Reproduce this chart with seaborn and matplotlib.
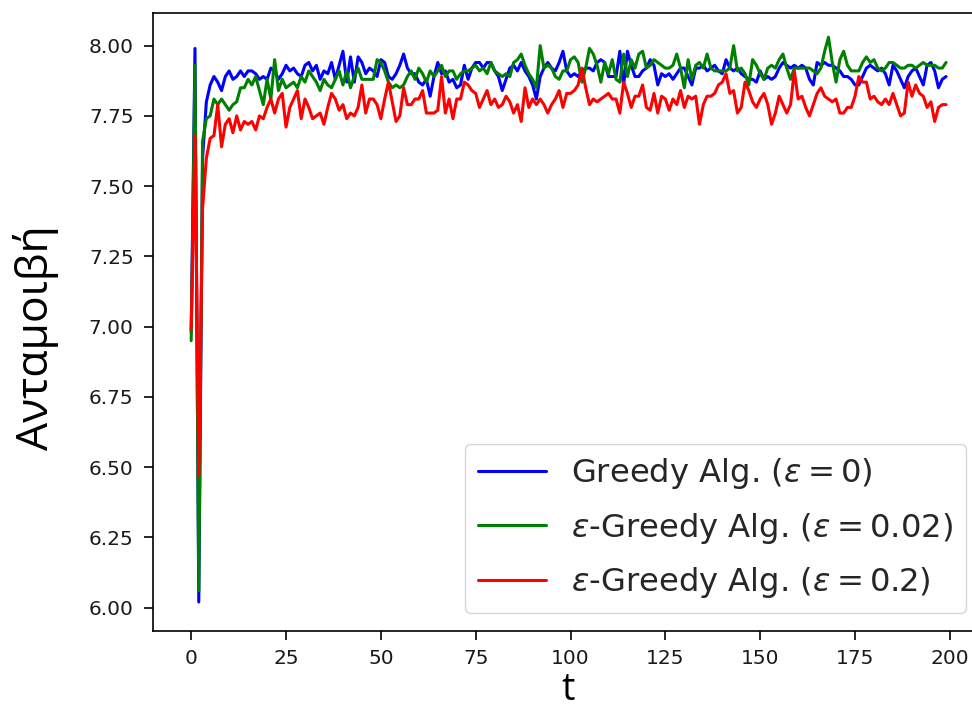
import numpy as np
import pandas as pd
import matplotlib
matplotlib.use("Agg")
import matplotlib.pyplot as plt
import seaborn as sns

t = list(range(200))

greedy = [
    6.98, 7.99, 6.02, 7.60, 7.80, 7.86, 7.89, 7.87, 7.84, 7.89,
    7.91, 7.88, 7.89, 7.91, 7.89, 7.91, 7.91, 7.90, 7.88, 7.89,
    7.88, 7.92, 7.91, 7.88, 7.90, 7.93, 7.91, 7.92, 7.90, 7.89,
    7.93, 7.94, 7.91, 7.93, 7.88, 7.91, 7.90, 7.94, 7.88, 7.93,
    7.98, 7.87, 7.96, 7.87, 7.96, 7.94, 7.90, 7.92, 7.91, 7.89,
    7.95, 7.94, 7.89, 7.88, 7.90, 7.93, 7.97, 7.92, 7.90, 7.90,
    7.87, 7.86, 7.88, 7.82, 7.89, 7.94, 7.90, 7.91, 7.87, 7.88,
    7.85, 7.86, 7.93, 7.88, 7.92, 7.94, 7.94, 7.92, 7.94, 7.94,
    7.91, 7.89, 7.84, 7.88, 7.92, 7.93, 7.91, 7.94, 7.91, 7.89,
    7.86, 7.81, 7.89, 7.92, 7.94, 7.92, 7.91, 7.94, 7.98, 7.91,
    7.89, 7.90, 7.89, 7.91, 7.92, 7.92, 7.91, 7.94, 7.95, 7.94,
    7.89, 7.89, 7.89, 7.98, 7.86, 7.98, 7.93, 7.89, 7.89, 7.91,
    7.92, 7.95, 7.93, 7.86, 7.90, 7.89, 7.90, 7.88, 7.90, 7.92,
    7.92, 7.89, 7.86, 7.92, 7.92, 7.93, 7.91, 7.92, 7.93, 7.91,
    7.90, 7.95, 7.92, 7.91, 7.92, 7.90, 7.89, 7.88, 7.88, 7.87,
    7.91, 7.88, 7.89, 7.88, 7.89, 7.92, 7.94, 7.93, 7.92, 7.93,
    7.92, 7.93, 7.92, 7.88, 7.86, 7.94, 7.93, 7.94, 7.93, 7.93,
    7.92, 7.91, 7.89, 7.89, 7.88, 7.86, 7.86, 7.89, 7.92, 7.93,
    7.92, 7.91, 7.92, 7.90, 7.86, 7.93, 7.91, 7.88, 7.85, 7.89,
    7.91, 7.92, 7.89, 7.86, 7.93, 7.94, 7.91, 7.85, 7.88, 7.89,
]

eps_002 = [
    6.95, 7.93, 6.06, 7.66, 7.74, 7.75, 7.81, 7.79, 7.81, 7.79,
    7.77, 7.79, 7.80, 7.85, 7.85, 7.88, 7.86, 7.89, 7.84, 7.79,
    7.88, 7.81, 7.95, 7.84, 7.88, 7.85, 7.86, 7.87, 7.85, 7.89,
    7.87, 7.91, 7.89, 7.87, 7.84, 7.88, 7.86, 7.85, 7.88, 7.91,
    7.86, 7.91, 7.85, 7.89, 7.92, 7.88, 7.88, 7.88, 7.88, 7.95,
    7.94, 7.91, 7.87, 7.85, 7.86, 7.85, 7.86, 7.89, 7.91, 7.88,
    7.92, 7.90, 7.87, 7.91, 7.89, 7.91, 7.93, 7.89, 7.91, 7.91,
    7.88, 7.90, 7.91, 7.91, 7.92, 7.93, 7.91, 7.92, 7.90, 7.94,
    7.91, 7.90, 7.89, 7.90, 7.89, 7.94, 7.95, 7.97, 7.93, 7.90,
    7.88, 7.85, 8.00, 7.92, 7.93, 7.92, 7.89, 7.88, 7.91, 7.91,
    7.95, 7.96, 7.94, 7.87, 7.92, 7.99, 7.97, 7.93, 7.87, 7.94,
    7.90, 7.95, 7.88, 7.87, 7.97, 7.89, 7.95, 7.92, 7.97, 7.98,
    7.92, 7.93, 7.95, 7.94, 7.93, 7.92, 7.92, 7.93, 7.97, 7.92,
    7.85, 7.95, 7.88, 7.93, 7.94, 7.92, 7.97, 7.92, 7.91, 7.91,
    7.91, 7.91, 7.92, 8.00, 7.91, 7.92, 7.90, 7.86, 7.95, 7.93,
    7.90, 7.88, 7.92, 7.93, 7.92, 7.95, 7.97, 7.92, 7.88, 7.92,
    7.92, 7.92, 7.92, 7.92, 7.91, 7.90, 7.92, 7.98, 8.03, 7.94,
    7.87, 7.95, 7.98, 7.93, 7.91, 7.91, 7.91, 7.94, 7.96, 7.94,
    7.95, 7.92, 7.91, 7.92, 7.94, 7.94, 7.93, 7.92, 7.92, 7.93,
    7.93, 7.92, 7.93, 7.94, 7.93, 7.93, 7.93, 7.92, 7.92, 7.94,
]

eps_02 = [
    6.99, 7.68, 6.47, 7.42, 7.60, 7.67, 7.68, 7.79, 7.64, 7.72,
    7.74, 7.69, 7.75, 7.70, 7.73, 7.72, 7.73, 7.70, 7.75, 7.74,
    7.78, 7.81, 7.76, 7.81, 7.83, 7.71, 7.78, 7.81, 7.84, 7.74,
    7.81, 7.78, 7.74, 7.75, 7.76, 7.72, 7.78, 7.83, 7.81, 7.77,
    7.79, 7.74, 7.76, 7.75, 7.78, 7.86, 7.76, 7.81, 7.81, 7.79,
    7.74, 7.81, 7.87, 7.80, 7.73, 7.75, 7.85, 7.79, 7.79, 7.81,
    7.81, 7.84, 7.76, 7.76, 7.76, 7.77, 7.89, 7.76, 7.81, 7.74,
    7.81, 7.81, 7.87, 7.86, 7.84, 7.83, 7.78, 7.81, 7.84, 7.79,
    7.81, 7.78, 7.79, 7.82, 7.80, 7.76, 7.79, 7.73, 7.85, 7.78,
    7.81, 7.79, 7.81, 7.79, 7.76, 7.79, 7.81, 7.84, 7.78, 7.83,
    7.83, 7.84, 7.86, 7.92, 7.85, 7.79, 7.81, 7.80, 7.81, 7.82,
    7.83, 7.81, 7.81, 7.76, 7.87, 7.83, 7.78, 7.82, 7.82, 7.86,
    7.78, 7.77, 7.83, 7.76, 7.82, 7.81, 7.77, 7.81, 7.79, 7.84,
    7.78, 7.82, 7.81, 7.82, 7.72, 7.79, 7.82, 7.82, 7.83, 7.86,
    7.87, 7.90, 7.83, 7.84, 7.76, 7.78, 7.87, 7.84, 7.80, 7.78,
    7.81, 7.83, 7.79, 7.72, 7.76, 7.82, 7.79, 7.76, 7.79, 7.91,
    7.81, 7.82, 7.78, 7.75, 7.79, 7.83, 7.85, 7.82, 7.81, 7.80,
    7.81, 7.76, 7.76, 7.78, 7.78, 7.82, 7.89, 7.87, 7.87, 7.81,
    7.82, 7.80, 7.79, 7.81, 7.79, 7.83, 7.79, 7.75, 7.76, 7.87,
    7.82, 7.86, 7.83, 7.82, 7.78, 7.80, 7.73, 7.78, 7.79, 7.79,
]

labels = [
    r"Greedy Alg. ($\varepsilon = 0$)",
    r"$\varepsilon$-Greedy Alg. ($\varepsilon = 0.02$)",
    r"$\varepsilon$-Greedy Alg. ($\varepsilon = 0.2$)",
]
colors = ["#0000ff", "#008000", "#ff0000"]
series = [greedy, eps_002, eps_02]

sns.set_theme(style="ticks")
plt.rcParams["font.family"] = ["DejaVu Sans"]

fig = plt.figure(figsize=(9.72, 7.08), dpi=100)
# axes extends beyond the right edge (the reference is cropped there)
ax = fig.add_axes([152.5 / 972, 77.3 / 708, 831.5 / 972, 617.4 / 708])

for vals, lab, col in zip(series, labels, colors):
    df = pd.DataFrame({"t": t, "v": vals})
    sns.lineplot(data=df, x="t", y="v", ax=ax, color=col, linewidth=2.2,
                 label=lab, errorbar=None)

ax.set_xlim(-10.2, 209.0)
ax.set_ylim(5.918, 8.115)
ax.set_xticks([0, 25, 50, 75, 100, 125, 150, 175, 200])
yt = [6.00, 6.25, 6.50, 6.75, 7.00, 7.25, 7.50, 7.75, 8.00]
ax.set_yticks(yt)
ax.set_yticklabels([f"{v:.2f}" for v in yt])

for sp in ax.spines.values():
    sp.set_color("black")
    sp.set_linewidth(1.2)
ax.tick_params(axis="both", labelsize=14.5, length=6.5, width=1.2,
               color="black", labelcolor="#1a1a1a", pad=7)

ax.set_xlabel("t", fontsize=27, family=["Open Sans", "DejaVu Sans"], color="black")
ax.set_ylabel("Ανταμοιβή", fontsize=32, family=["Open Sans", "DejaVu Sans"], color="black")
ax.xaxis.set_label_coords(0.5, -0.066)
ax.yaxis.set_label_coords(-0.112, 0.475)

leg = ax.legend(loc="lower right", fontsize=23.2, handlelength=2.1,
                handletextpad=0.8, labelspacing=0.6, borderaxespad=0.55,
                frameon=True, fancybox=True, framealpha=0.8, edgecolor="#cccccc")
for line in leg.get_lines():
    line.set_linewidth(2.2)

fig.savefig("out.png", dpi=100)
